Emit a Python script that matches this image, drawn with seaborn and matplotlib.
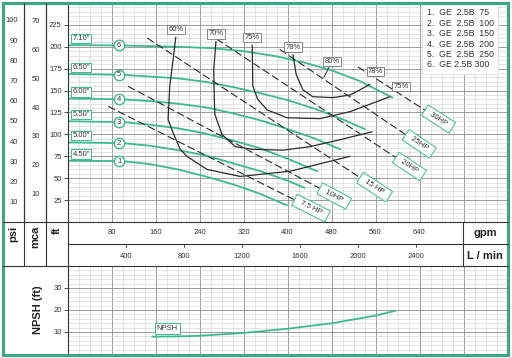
import numpy as np
import matplotlib.pyplot as plt
import seaborn as sns
from matplotlib.patches import Rectangle

W, H = 512, 358
GREEN = "#3dba8c"
FRAME = "#3aa980"
INK = "#333333"

sns.set_style("white")
plt.rcParams["font.family"] = ["Liberation Sans", "DejaVu Sans"]

# ---- data (flow in gpm, head in ft) ----
impeller_labels = ['4.50"', '5.00"', '5.50"', '6.00"', '6.50"', '7.10"']
model_labels = ["1.  GE  2.5B  75", "2.  GE  2.5B  100", "3.  GE  2.5B  150",
                "4.  GE  2.5B  200", "5.  GE  2.5B  250", "6.  GE 2.5B 300"]

q_c1 = [0, 100, 150, 200, 250, 300, 350, 398]
h_c1 = [70, 69.5, 66, 60, 52, 43, 32, 19]
q_c2 = [0, 100, 150, 200, 250, 300, 350, 400, 430]
h_c2 = [91, 90, 87, 82, 76, 67, 58, 47, 39]
q_c3 = [0, 100, 150, 200, 250, 300, 350, 400, 453]
h_c3 = [115, 114, 111, 107, 101, 93, 84, 72, 58]
q_c4 = [0, 100, 150, 200, 250, 300, 350, 400, 450, 495]
h_c4 = [141, 140, 138, 135, 131, 124, 116, 106, 95, 83]
q_c5 = [0, 100, 200, 250, 300, 350, 400, 450, 500, 540]
h_c5 = [169, 168, 164, 160, 154, 147, 139, 129, 117, 106]
q_c6 = [0, 100, 200, 260, 320, 380, 430, 480, 530, 590]
h_c6 = [202, 201.5, 200, 198.5, 195, 189, 182, 173, 161, 142]

eff_labels = ["60%", "70%", "75%", "78%"]
q_e60 = [196, 191, 185, 182, 191, 204, 216, 253, 313, 404, 513]
h_e60 = [211, 185, 155, 117, 102, 83, 75, 60, 52, 58, 75]
q_e70 = [269, 265, 266, 267, 280, 304, 336, 391, 440, 495, 553]
h_e70 = [206, 174, 140, 123, 100, 86, 83, 82, 86, 94, 103]
q_e75 = [335, 336, 345, 362, 398, 458, 513, 585]
h_e75 = [202, 155, 140, 128, 119, 118, 126, 143]
q_e78 = [409, 415, 427, 445, 482, 513, 549]
h_e78 = [191, 168, 151, 143, 142, 145, 157]
q_e80, h_e80 = 465, 165

hp_labels = ["7.5 HP", "10HP", "15 HP", "20HP", "25HP", "30HP"]
hp_q0 = [73, 109, 144, 253, 385, 527]
hp_h0 = [132, 155, 210, 216, 197, 177]
hp_q1 = [416, 462, 535, 600, 618, 653]
hp_h1 = [24, 37, 49, 72, 98, 126]

npsh_q = [153, 200, 240, 320, 400, 480, 560, 596]
npsh_h = [7.9, 8.0, 8.3, 9.6, 11.5, 14.0, 17.5, 19.7]

gpm_ticks = [80, 160, 240, 320, 400, 480, 560, 640]
lpm_ticks = [400, 800, 1200, 1600, 2000, 2400]
ft_ticks = [25, 50, 75, 100, 125, 150, 175, 200, 225]
psi_ticks = [10, 20, 30, 40, 50, 60, 70, 80, 90, 100]
mca_ticks = [10, 20, 30, 40, 50, 60, 70]
npsh_ticks = [10, 20, 30]

Q_MAX, H_MAX = 800, 250

fig = plt.figure(figsize=(W / 100, H / 100), dpi=100)


def px_axes(x0, y0, x1, y1, **kw):
    return fig.add_axes([x0 / W, 1 - y1 / H, (x1 - x0) / W, (y1 - y0) / H], **kw)


def style_grid(ax, ymajor, yminor):
    ax.set_xticks(np.arange(0, Q_MAX + 1, 80))
    ax.set_xticks(np.arange(0, Q_MAX + 1, 20), minor=True)
    ax.set_yticks(np.arange(0, ax.get_ylim()[1] + 0.1, ymajor), minor=False)
    ax.set_yticks(np.arange(0, ax.get_ylim()[1] + 0.1, yminor), minor=True)
    ax.grid(which="major", color="#8c8c8c", lw=0.6)
    ax.grid(which="minor", color="#cfcfcf", lw=0.4)
    ax.set_axisbelow(True)
    ax.tick_params(which="both", bottom=False, labelbottom=False)
    for s in ["top", "right", "bottom"]:
        ax.spines[s].set_visible(False)
    ax.spines["left"].set_color(INK)
    ax.spines["left"].set_linewidth(0.8)


# ---- main head chart ----
ax = px_axes(68, 3, 508, 222)
ax.set_xlim(0, Q_MAX)
ax.set_ylim(0, H_MAX)
style_grid(ax, 25, 5)
ax.set_yticks(ft_ticks)
ax.set_yticks(np.arange(0, H_MAX + 1, 25), minor=False)
ax.set_yticklabels(["" if v not in ft_ticks else str(v) for v in np.arange(0, H_MAX + 1, 25)])
ax.tick_params(axis="y", which="major", left=True, length=3, width=0.6, color=INK,
               labelsize=5.5, labelcolor=INK, pad=1.5)
ax.tick_params(axis="y", which="minor", left=False)

heads = [(q_c1, h_c1), (q_c2, h_c2), (q_c3, h_c3), (q_c4, h_c4), (q_c5, h_c5), (q_c6, h_c6)]
for i, (q, h) in enumerate(heads):
    sns.lineplot(x=q, y=h, ax=ax, color=GREEN, lw=1.3, sort=False, estimator=None)
    hq = np.interp(93, q, h)
    ax.plot(93, hq, "o", ms=7.5, mfc="white", mec=GREEN, mew=1.0, zorder=5)
    ax.text(93, hq, str(i + 1), ha="center", va="center", fontsize=5.5, color=INK, zorder=6)
    ax.text(8, h[0] + 3.5, impeller_labels[i], ha="left", va="bottom", fontsize=5.5,
            color=INK, zorder=6,
            bbox=dict(boxstyle="square,pad=0.15", fc="white", ec=GREEN, lw=0.7))

effs = [(q_e60, h_e60), (q_e70, h_e70), (q_e75, h_e75), (q_e78, h_e78)]
ebox = dict(boxstyle="square,pad=0.15", fc="white", ec="#777777", lw=0.6)
for lab, (q, h) in zip(eff_labels, effs):
    sns.lineplot(x=q, y=h, ax=ax, color="#2b2b2b", lw=0.9, sort=False, estimator=None)
    ax.annotate(lab, (q[0], h[0]), xytext=(0, 3), textcoords="offset points", ha="center",
                va="bottom", fontsize=5.5, color=INK, bbox=ebox, zorder=6)
ax.annotate("78%", (q_e78[-1], h_e78[-1]), xytext=(4, 7), textcoords="offset points",
            ha="center", va="bottom", fontsize=5.5, color=INK, bbox=ebox, zorder=6)
ax.annotate("75%", (q_e75[-1], h_e75[-1]), xytext=(8, 5), textcoords="offset points",
            ha="center", va="bottom", fontsize=5.5, color=INK, bbox=ebox, zorder=6)
ax.annotate("80%", (q_e80, h_e80), xytext=(6, 9), textcoords="offset points",
            ha="center", va="bottom", fontsize=5.5, color=INK, bbox=ebox, zorder=6,
            arrowprops=dict(arrowstyle="-", color="#2b2b2b", lw=0.7, shrinkA=0, shrinkB=0))

for lab, q0, h0, q1, h1 in zip(hp_labels, hp_q0, hp_h0, hp_q1, hp_h1):
    sns.lineplot(x=[q0, q1], y=[h0, h1], ax=ax, color="#2b2b2b", lw=0.8,
                 estimator=None, sort=False, dashes=False, linestyle=(0, (7, 3)))
    p0 = ax.transData.transform((q0, h0))
    p1 = ax.transData.transform((q1, h1))
    ang = np.degrees(np.arctan2(p1[1] - p0[1], p1[0] - p0[0]))
    ax.text(q1, h1, "  " + lab + "  ", rotation=ang, rotation_mode="anchor", ha="left",
            va="center", fontsize=5.5, color=INK, zorder=6,
            bbox=dict(boxstyle="square,pad=0.35", fc="white", ec=GREEN, lw=0.7))

ax.text(0.815, 0.975, "\n".join(model_labels), transform=ax.transAxes, ha="left", va="top",
        fontsize=6.3, color=INK, linespacing=1.2, zorder=7,
        bbox=dict(boxstyle="square,pad=0.5", fc="white", ec="#dddddd", lw=0.6))

# ---- psi / mca scales ----
for x0, ticks, top in [(24, psi_ticks, H_MAX / 2.307), (46, mca_ticks, H_MAX / 3.281)]:
    sa = px_axes(x0, 3, x0 + 20, 222)
    sa.set_ylim(0, top)
    sa.set_xticks([])
    sa.set_yticks(ticks)
    sa.patch.set_alpha(0)
    for s in ["top", "right", "bottom"]:
        sa.spines[s].set_visible(False)
    sa.spines["left"].set_color(INK)
    sa.spines["left"].set_linewidth(0.8)
    sa.tick_params(axis="y", length=3, width=0.6, color=INK, labelsize=5.5,
                   labelcolor=INK, pad=1.5)

# ---- gpm row and L/min row ----
ga = px_axes(68, 222, 463, 244)
ga.set_xlim(0, 720)
ga.axis("off")
for v in gpm_ticks:
    ga.text(v, 0.5, str(v), transform=ga.get_xaxis_transform(), ha="center", va="center",
            fontsize=5.5, color=INK)
la = px_axes(68, 244, 463, 266)
la.set_xlim(0, 720 * 3.785)
la.axis("off")
for v in lpm_ticks:
    la.text(v, 0.45, str(v), transform=la.get_xaxis_transform(), ha="center", va="center",
            fontsize=5.5, color=INK)
    la.plot([v, v], [1, 0.88], transform=la.get_xaxis_transform(), color=INK, lw=0.6)

# ---- NPSH panel ----
na = px_axes(68, 266, 508, 354)
na.set_xlim(0, Q_MAX)
na.set_ylim(0, 40)
style_grid(na, 10, 2)
na.set_yticks(npsh_ticks)
na.tick_params(axis="y", which="major", left=True, length=3, width=0.6, color=INK,
               labelsize=5.5, labelcolor=INK, pad=1.5)
na.tick_params(axis="y", which="minor", left=False)
sns.lineplot(x=npsh_q, y=npsh_h, ax=na, color=GREEN, lw=1.3, sort=False, estimator=None)
na.text(npsh_q[0] + 8, npsh_h[0] + 2.2, "NPSH", ha="left", va="bottom", fontsize=5.5,
        color=INK, bbox=dict(boxstyle="square,pad=0.25", fc="white", ec=GREEN, lw=0.7))

# ---- frame, separators and row titles ----
ov = fig.add_axes([0, 0, 1, 1], zorder=20)
ov.set_xlim(0, W)
ov.set_ylim(H, 0)
ov.axis("off")
ov.patch.set_alpha(0)
line_kw = dict(color=INK, lw=0.8)
ov.plot([3, 508], [222, 222], **line_kw)
ov.plot([68, 508], [244, 244], **line_kw)
ov.plot([3, 508], [266, 266], **line_kw)
ov.plot([24, 24], [3, 266], **line_kw)
ov.plot([46, 46], [3, 266], **line_kw)
ov.plot([68, 68], [222, 266], **line_kw)
ov.plot([463, 463], [222, 266], **line_kw)
ov.add_patch(Rectangle((3, 3), 505, 352, fill=False, ec=FRAME, lw=2.2))
for x, t in [(13, "psi"), (35, "mca"), (57, "ft")]:
    ov.text(x, 226, t, rotation=90, ha="center", va="top", fontsize=8, fontweight="bold",
            color="#222222")
ov.text(485, 233, "gpm", ha="center", va="center", fontsize=8, fontweight="bold", color="#222222")
ov.text(485, 256, "L / min", ha="center", va="center", fontsize=8, fontweight="bold",
        color="#222222")
ov.text(38, 310, "NPSH (ft)", rotation=90, ha="center", va="center", fontsize=8,
        fontweight="bold", color="#222222")

fig.savefig("out.png", dpi=100)
